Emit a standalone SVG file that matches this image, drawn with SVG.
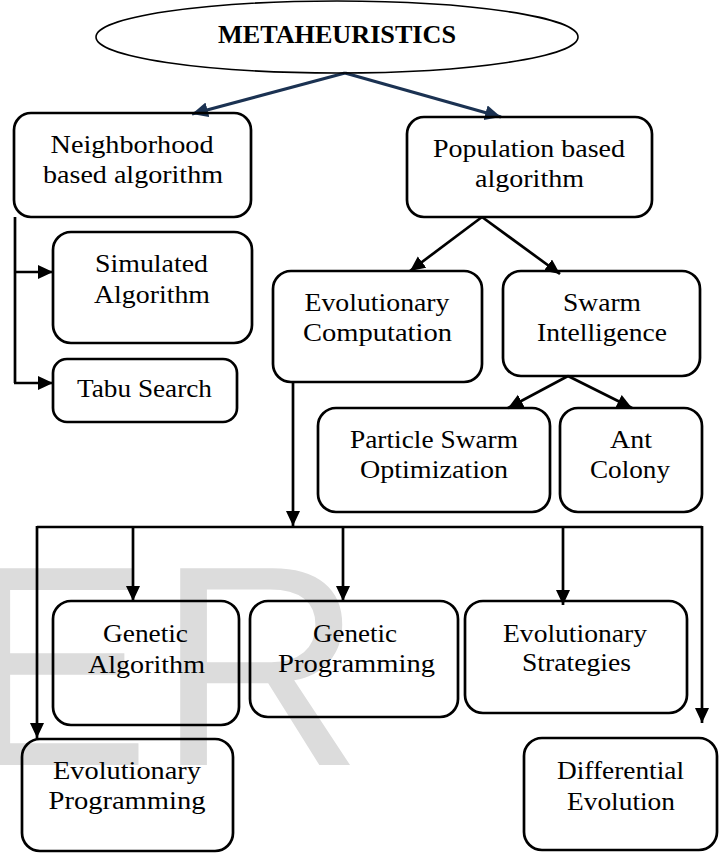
<svg xmlns="http://www.w3.org/2000/svg" width="722" height="854" viewBox="0 0 722 854">
<style>
.bg{fill:#fff}
.wm{font-family:"Liberation Sans",Arial,sans-serif;font-size:286px;fill:#dcdcdc}
.box{fill:none;stroke:#000;stroke-width:2.7}
.ell{fill:none;stroke:#000;stroke-width:1.6}
.t{font-family:'Liberation Serif','DejaVu Serif','Times New Roman',serif;font-size:26px;font-weight:normal;font-style:normal;fill:#000;text-anchor:middle}
.tb{font-family:'Liberation Serif','DejaVu Serif','Times New Roman',serif;font-size:26px;font-weight:bold;fill:#000;text-anchor:middle}
.c{fill:none;stroke:#000;stroke-width:2.7}
.n{fill:none;stroke:#1b3252;stroke-width:3.2}
</style>
<defs>
<marker id="ab" markerUnits="userSpaceOnUse" markerWidth="16" markerHeight="16" refX="15" refY="7" orient="auto" viewBox="0 0 16 16">
<path d="M0,0 L15,7 L0,14 Z" fill="#000"/>
</marker>
<marker id="an" markerUnits="userSpaceOnUse" markerWidth="18" markerHeight="18" refX="16" refY="7.5" orient="auto" viewBox="0 0 18 18">
<path d="M0,0 L16,7.5 L0,15 Z" fill="#1b3252"/>
</marker>
</defs>
<rect class="bg" x="0" y="0" width="722" height="854"/>
<text class="wm" x="-40" y="765" letter-spacing="6">ER</text>

<g id="connectors">
<line class="n" x1="345" y1="73" x2="192" y2="114" marker-end="url(#an)"/>
<line class="n" x1="345" y1="73" x2="501" y2="117" marker-end="url(#an)"/>
<polyline class="c" points="15,217 15,383"/>
<line class="c" x1="14" y1="272" x2="53" y2="272" marker-end="url(#ab)"/>
<line class="c" x1="14" y1="383" x2="53" y2="383" marker-end="url(#ab)"/>
<line class="c" x1="482" y1="217" x2="410" y2="271" marker-end="url(#ab)"/>
<line class="c" x1="482" y1="217" x2="560" y2="274" marker-end="url(#ab)"/>
<line class="c" x1="568" y1="376" x2="508" y2="408" marker-end="url(#ab)"/>
<line class="c" x1="568" y1="376" x2="632" y2="408" marker-end="url(#ab)"/>
<line class="c" x1="293" y1="382" x2="293" y2="526" marker-end="url(#ab)"/>
<polyline class="c" points="37,527 702,527"/>
<line class="c" x1="37" y1="526" x2="37" y2="738" marker-end="url(#ab)"/>
<line class="c" x1="133" y1="527" x2="133" y2="601" marker-end="url(#ab)"/>
<line class="c" x1="343" y1="527" x2="343" y2="601" marker-end="url(#ab)"/>
<line class="c" x1="563" y1="527" x2="563" y2="605" marker-end="url(#ab)"/>
<line class="c" x1="702" y1="526" x2="702" y2="723" marker-end="url(#ab)"/>
</g>

<g id="metaheuristics">
<ellipse class="ell" cx="337" cy="37" rx="241" ry="36"/>
<text class="tb" x="337" y="43" textLength="238" lengthAdjust="spacingAndGlyphs">METAHEURISTICS</text>
</g>

<g id="neighborhood">
<rect class="box" x="14" y="113" width="237" height="104" rx="17"/>
<text class="t" x="132" y="153" textLength="163" lengthAdjust="spacingAndGlyphs">Neighborhood</text>
<text class="t" x="133" y="183" textLength="180" lengthAdjust="spacingAndGlyphs">based algorithm</text>
</g>

<g id="population">
<rect class="box" x="407" y="117" width="245" height="100" rx="17"/>
<text class="t" x="529" y="157" textLength="192" lengthAdjust="spacingAndGlyphs">Population based</text>
<text class="t" x="529.5" y="187" textLength="109" lengthAdjust="spacingAndGlyphs">algorithm</text>
</g>

<g id="simulated">
<rect class="box" x="53" y="232" width="199" height="111" rx="18"/>
<text class="t" x="151.5" y="272" textLength="113" lengthAdjust="spacingAndGlyphs">Simulated</text>
<text class="t" x="152" y="303" textLength="116" lengthAdjust="spacingAndGlyphs">Algorithm</text>
</g>

<g id="tabu">
<rect class="box" x="53" y="359" width="184" height="63" rx="14"/>
<text class="t" x="144.5" y="397" textLength="135" lengthAdjust="spacingAndGlyphs">Tabu Search</text>
</g>

<g id="evolutionary-computation">
<rect class="box" x="273" y="271" width="209" height="111" rx="18"/>
<text class="t" x="377" y="311" textLength="145" lengthAdjust="spacingAndGlyphs">Evolutionary</text>
<text class="t" x="377.5" y="341" textLength="149" lengthAdjust="spacingAndGlyphs">Computation</text>
</g>

<g id="swarm">
<rect class="box" x="503" y="271" width="197" height="105" rx="18"/>
<text class="t" x="602" y="311" textLength="78" lengthAdjust="spacingAndGlyphs">Swarm</text>
<text class="t" x="602" y="341" textLength="130" lengthAdjust="spacingAndGlyphs">Intelligence</text>
</g>

<g id="pso">
<rect class="box" x="318" y="408" width="232" height="104" rx="18"/>
<text class="t" x="434" y="448" textLength="168" lengthAdjust="spacingAndGlyphs">Particle Swarm</text>
<text class="t" x="434" y="478" textLength="148" lengthAdjust="spacingAndGlyphs">Optimization</text>
</g>

<g id="ant">
<rect class="box" x="560" y="408" width="142" height="104" rx="18"/>
<text class="t" x="631" y="448" textLength="42" lengthAdjust="spacingAndGlyphs">Ant</text>
<text class="t" x="630" y="478" textLength="80" lengthAdjust="spacingAndGlyphs">Colony</text>
</g>

<g id="genetic-algorithm">
<rect class="box" x="53" y="601" width="186" height="124" rx="18"/>
<text class="t" x="145.5" y="642" textLength="85" lengthAdjust="spacingAndGlyphs">Genetic</text>
<text class="t" x="146.5" y="673" textLength="117" lengthAdjust="spacingAndGlyphs">Algorithm</text>
</g>

<g id="genetic-programming">
<rect class="box" x="250" y="601" width="208" height="116" rx="18"/>
<text class="t" x="355" y="642" textLength="84" lengthAdjust="spacingAndGlyphs">Genetic</text>
<text class="t" x="356.5" y="672" textLength="157" lengthAdjust="spacingAndGlyphs">Programming</text>
</g>

<g id="evolutionary-strategies">
<rect class="box" x="465" y="601" width="222" height="112" rx="18"/>
<text class="t" x="575" y="642" textLength="144" lengthAdjust="spacingAndGlyphs">Evolutionary</text>
<text class="t" x="576.5" y="671" textLength="109" lengthAdjust="spacingAndGlyphs">Strategies</text>
</g>

<g id="evolutionary-programming">
<rect class="box" x="22" y="739" width="211" height="112" rx="18"/>
<text class="t" x="127" y="779" textLength="148" lengthAdjust="spacingAndGlyphs">Evolutionary</text>
<text class="t" x="127" y="809" textLength="157" lengthAdjust="spacingAndGlyphs">Programming</text>
</g>

<g id="differential-evolution">
<rect class="box" x="524" y="738" width="193" height="112" rx="18"/>
<text class="t" x="620.5" y="779" textLength="127" lengthAdjust="spacingAndGlyphs">Differential</text>
<text class="t" x="621" y="810" textLength="108" lengthAdjust="spacingAndGlyphs">Evolution</text>
</g>
</svg>
